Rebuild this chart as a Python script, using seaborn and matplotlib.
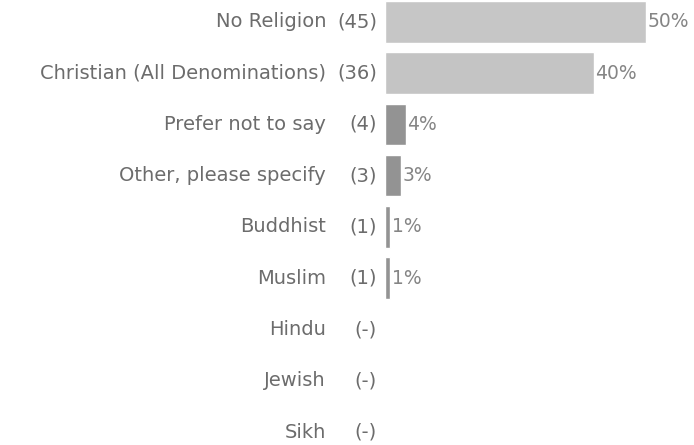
import matplotlib
matplotlib.use("Agg")
import matplotlib.pyplot as plt
import matplotlib.transforms as mtransforms
import seaborn as sns
import pandas as pd

categories = ["No Religion", "Christian (All Denominations)", "Prefer not to say",
              "Other, please specify", "Buddhist", "Muslim", "Hindu", "Jewish", "Sikh"]
counts = ["(45)", "(36)", "(4)", "(3)", "(1)", "(1)", "(-)", "(-)", "(-)"]
percents = [50, 40, 4, 3, 1, 1, 0, 0, 0]
bar_colors = ["#c6c6c6", "#c4c4c4", "#939393", "#939393", "#939393", "#939393",
              "#939393", "#939393", "#939393"]

df = pd.DataFrame({"category": categories, "percent": percents})

sns.set_theme(style="white")
plt.rcParams["font.family"] = ["DejaVu Sans"]

fig = plt.figure(figsize=(6.94, 4.45), dpi=100)
ax = fig.add_axes([385 / 694, 0, 309 / 694, 1])

sns.barplot(data=df, y="category", x="percent", hue="category",
            palette=dict(zip(categories, bar_colors)), legend=False,
            orient="h", width=0.81, ax=ax, saturation=1)

# rows are 51.3 px apart, first row centred 22 px below the top edge
row_px = 51.3
ax.set_xlim(0, 309 / 5.22)
ax.set_ylim(8 + (445 - 432) / row_px, -22 / row_px)
ax.set_axis_off()

text_color = "#6c6c6c"
fs = 14
trans = mtransforms.blended_transform_factory(fig.transFigure, ax.transData)
for i, (name, cnt, pct) in enumerate(zip(categories, counts, percents)):
    ax.text(326 / 694, i, name, transform=trans, ha="right", va="center",
            fontsize=fs, color=text_color)
    ax.text(377 / 694, i, cnt, transform=trans, ha="right", va="center",
            fontsize=fs, color=text_color)
    if pct > 0:
        ax.text(pct + 0.3, i, f"{pct}%", ha="left", va="center",
                fontsize=13.5, color="#858585")

fig.savefig("out.png", dpi=100)
